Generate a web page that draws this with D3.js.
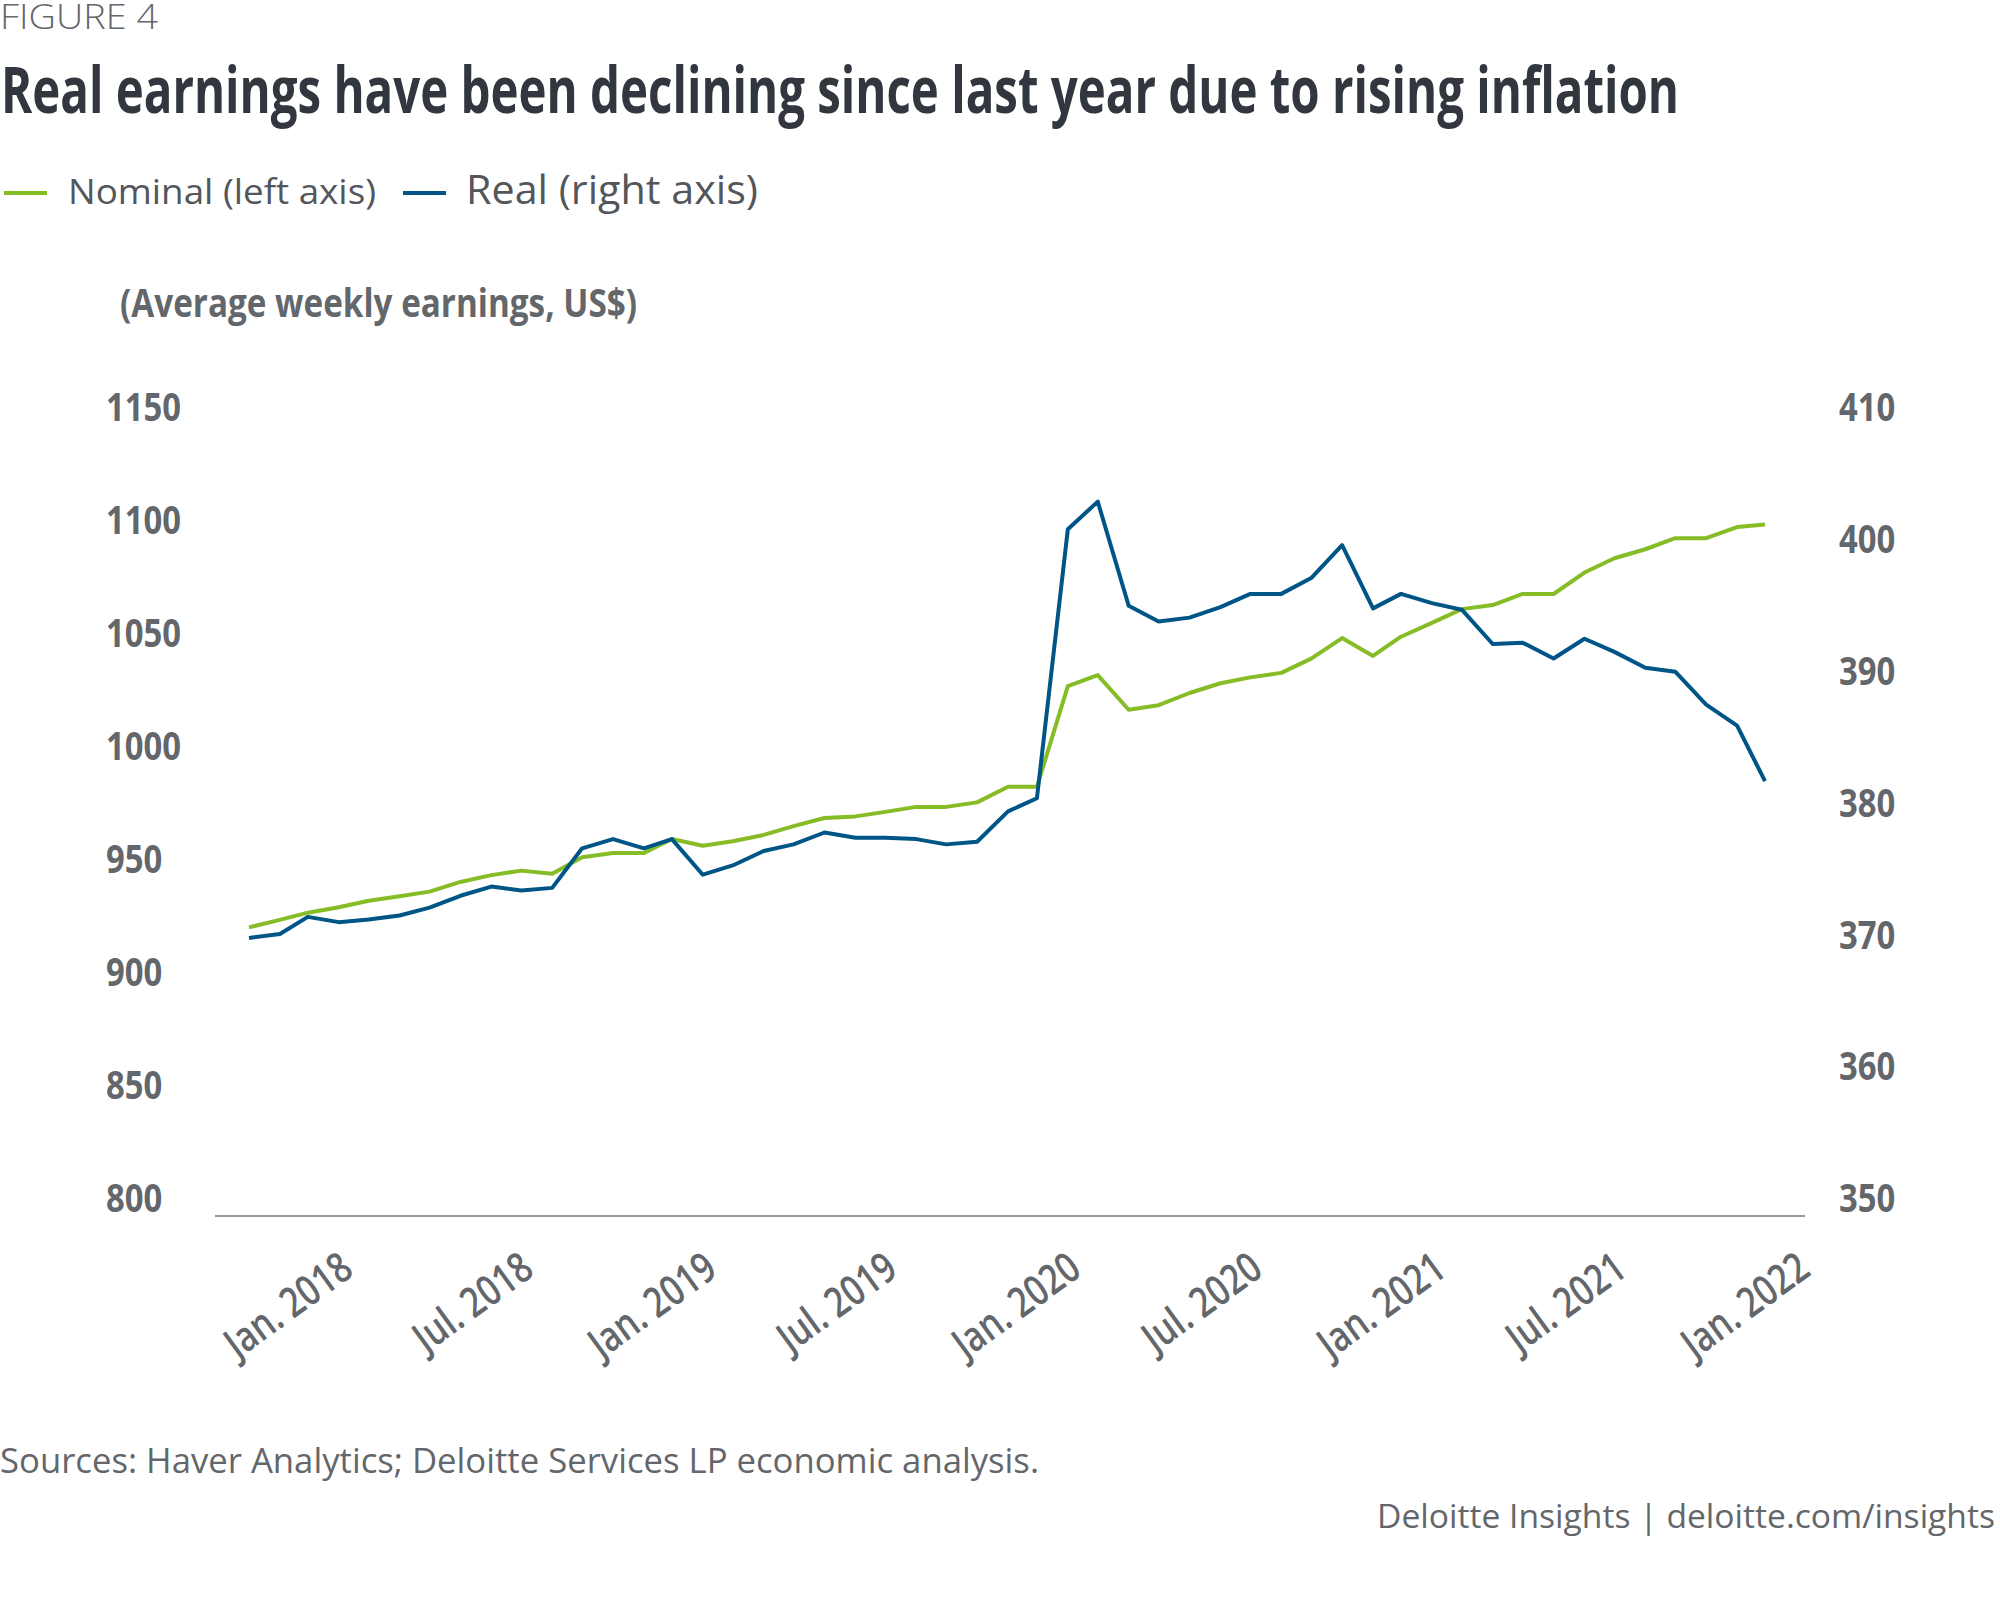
<!DOCTYPE html>
<html>
<head>
<meta charset="utf-8">
<script src="https://cdn.jsdelivr.net/npm/d3@7"></script>
<style>
  body { margin: 0; background: #fff; }
  text { font-family: "Open Sans", sans-serif; }
</style>
</head>
<body>
<svg id="chart" width="2000" height="1602"></svg>
<script>
// months Jan 2018 .. Mar 2022
const months = d3.timeMonth.range(new Date(2018, 0, 1), new Date(2022, 3, 1));

// Nominal average weekly earnings (left axis, US$)
const nominal = [920.2, 923.5, 926.7, 929.1, 932.0, 934.0, 936.0, 940.3, 943.3, 945.3,
  943.9, 951.2, 953.1, 953.1, 959.3, 956.3, 958.3, 961.1, 965.0, 968.6,
  969.3, 971.3, 973.5, 973.5, 975.5, 982.4, 982.4, 1026.9, 1031.8, 1016.5,
  1018.5, 1023.9, 1028.2, 1030.8, 1032.8, 1039.1, 1048.2, 1040.3, 1048.8, 1054.9,
  1061.0, 1062.8, 1067.7, 1067.7, 1077.2, 1083.5, 1087.5, 1092.4, 1092.4, 1097.3, 1098.4];

// Real average weekly earnings (right axis)
const real = [369.8, 370.1, 371.4, 371.0, 371.2, 371.5, 372.1, 373.0, 373.7, 373.4,
  373.6, 376.6, 377.3, 376.6, 377.3, 374.6, 375.3, 376.4, 376.9, 377.8,
  377.4, 377.4, 377.3, 376.9, 377.1, 379.4, 380.4, 400.8, 402.9, 395.0,
  393.8, 394.1, 394.9, 395.9, 395.9, 397.1, 399.6, 394.8, 395.9, 395.2,
  394.7, 392.1, 392.2, 391.0, 392.5, 391.5, 390.3, 390.0, 387.5, 385.9, 381.7];

const leftTicks = [800, 850, 900, 950, 1000, 1050, 1100, 1150];
const rightTicks = [350, 360, 370, 380, 390, 400, 410];
const xTicks = d3.timeMonth.every(6).range(new Date(2018, 0, 1), new Date(2022, 1, 1));

const green = "#86bc25";
const blue = "#005587";
const gray = "#63666a";

const svg = d3.select("#chart");
svg.append("rect").attr("width", 2000).attr("height", 1602).attr("fill", "#fff");

// squeeze a text to look like the condensed face
function condense(sel, k) {
  sel.each(function() {
    const len = this.getComputedTextLength();
    d3.select(this).attr("textLength", len * k).attr("lengthAdjust", "spacingAndGlyphs");
  });
}

const x = d3.scaleTime()
  .domain([months[0], months[months.length - 1]])
  .range([249, 1765]);

const yL = d3.scaleLinear().domain([800, 1150]).range([1199, 408]);
const yR = d3.scaleLinear().domain([350, 410]).range([1199, 408]);

// headings
svg.append("text")
  .attr("x", 0).attr("y", 29)
  .attr("font-size", 35).attr("font-weight", 300)
  .attr("fill", gray)
  .attr("textLength", 158).attr("lengthAdjust", "spacingAndGlyphs")
  .text("FIGURE 4");

svg.append("text")
  .attr("x", 1).attr("y", 113)
  .attr("font-size", 64).attr("font-weight", 700)
  .attr("fill", "#32363e")
  .attr("textLength", 1678).attr("lengthAdjust", "spacingAndGlyphs")
  .text("Real earnings have been declining since last year due to rising inflation");

// legend
const legend = [
  { name: "Nominal (left axis)", color: green, x1: 4, x2: 47, tx: 68, w: 308, fs: 35 },
  { name: "Real (right axis)", color: blue, x1: 403, x2: 446, tx: 466, w: 292, fs: 40 }
];
legend.forEach(d => {
  svg.append("line")
    .attr("x1", d.x1).attr("x2", d.x2).attr("y1", 193).attr("y2", 193)
    .attr("stroke", d.color).attr("stroke-width", 4);
  svg.append("text")
    .attr("x", d.tx).attr("y", 204)
    .attr("font-size", d.fs)
    .attr("fill", "#53565a")
    .attr("textLength", d.w).attr("lengthAdjust", "spacingAndGlyphs")
    .text(d.name);
});

svg.append("text")
  .attr("x", 120).attr("y", 317)
  .attr("font-size", 40).attr("font-weight", 700)
  .attr("fill", gray)
  .attr("textLength", 517).attr("lengthAdjust", "spacingAndGlyphs")
  .text("(Average weekly earnings, US$)");

// left axis
const gL = svg.append("g")
  .attr("transform", "translate(106,0)")
  .call(d3.axisLeft(yL).tickValues(leftTicks).tickFormat(d3.format("d")).tickSize(0).tickPadding(0));
gL.select(".domain").remove();
gL.selectAll("text")
  .attr("text-anchor", "start")
  .attr("font-family", "Open Sans").attr("font-size", 40).attr("font-weight", 700)
  .attr("fill", gray)
  .call(condense, 0.82);

// right axis
const gR = svg.append("g")
  .attr("transform", "translate(1839,0)")
  .call(d3.axisRight(yR).tickValues(rightTicks).tickSize(0).tickPadding(0));
gR.select(".domain").remove();
gR.selectAll("text")
  .attr("font-family", "Open Sans").attr("font-size", 40).attr("font-weight", 700)
  .attr("fill", gray)
  .call(condense, 0.82);

// baseline
svg.append("line")
  .attr("x1", 215).attr("x2", 1805)
  .attr("y1", 1216).attr("y2", 1216)
  .attr("stroke", "#97999b").attr("stroke-width", 2);

// bottom axis labels
const fmt = d => `${d3.timeFormat("%b")(d)}. ${d.getFullYear()}`;
const gX = svg.append("g")
  .attr("transform", "translate(0,1216)")
  .call(d3.axisBottom(x).tickValues(xTicks).tickFormat(fmt).tickSize(0));
gX.select(".domain").remove();
gX.selectAll(".tick text")
  .attr("text-anchor", "end")
  .attr("font-family", "Open Sans").attr("font-size", 42).attr("font-weight", 600)
  .attr("fill", gray)
  .attr("dy", 0)
  .attr("y", 0)
  .attr("transform", "translate(106,58) rotate(-36)")
  .call(condense, 0.8);

// lines
const lineL = d3.line().x((d, i) => x(months[i])).y(d => yL(d));
const lineR = d3.line().x((d, i) => x(months[i])).y(d => yR(d));

svg.append("path")
  .datum(nominal)
  .attr("d", lineL)
  .attr("fill", "none").attr("stroke", green).attr("stroke-width", 4)
  .attr("stroke-linejoin", "round");

svg.append("path")
  .datum(real)
  .attr("d", lineR)
  .attr("fill", "none").attr("stroke", blue).attr("stroke-width", 4)
  .attr("stroke-linejoin", "round");

// footer
svg.append("text")
  .attr("x", 0).attr("y", 1473)
  .attr("font-size", 35)
  .attr("fill", gray)
  .attr("textLength", 1039).attr("lengthAdjust", "spacingAndGlyphs")
  .text("Sources: Haver Analytics; Deloitte Services LP economic analysis.");

svg.append("text")
  .attr("x", 1995).attr("y", 1528)
  .attr("text-anchor", "end")
  .attr("font-size", 32)
  .attr("fill", gray)
  .attr("textLength", 618).attr("lengthAdjust", "spacingAndGlyphs")
  .text("Deloitte Insights | deloitte.com/insights");
</script>
</body>
</html>
